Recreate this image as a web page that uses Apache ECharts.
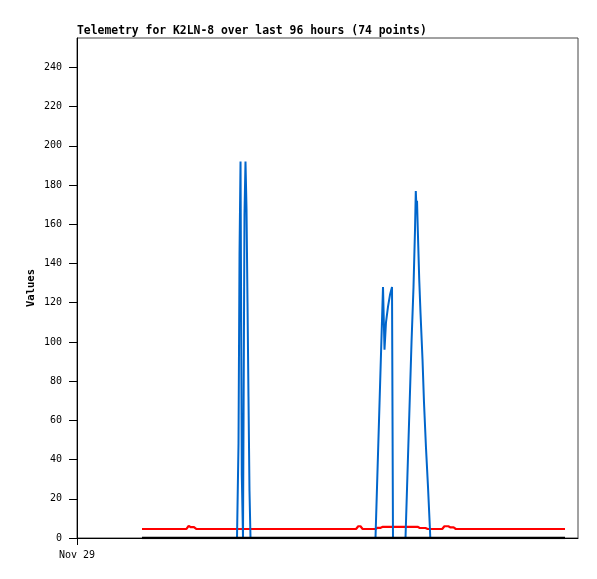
<!DOCTYPE html>
<html>
<head>
<meta charset="utf-8">
<script src="https://cdn.jsdelivr.net/npm/echarts@6/dist/echarts.min.js"></script>
<style>html,body{margin:0;padding:0;background:#fff}#c{width:597px;height:579px}</style>
</head>
<body>
<div id="c"></div>
<script>
// Hours since Nov 29 00:00
const titleText = 'Telemetry for K2LN-8 over last 96 hours (74 points)';
const xTickLabels = ['Nov 29'];
const yTicks = [0, 20, 40, 60, 80, 100, 120, 140, 160, 180, 200, 220, 240];

const blueTimes = [14.79, 36.41, 36.75, 36.98, 37.21, 37.50, 37.77, 38.11, 38.34, 38.57, 38.80, 39.02, 39.25, 39.48,
  67.92, 69.63, 69.97, 70.31, 70.77, 71.22, 71.68, 71.90,
  74.75, 76.12, 76.57, 76.91, 77.09, 77.25, 77.37, 77.55, 77.87, 78.16, 78.62, 78.96, 79.41, 79.87, 80.28, 80.39, 111.04];
const blueValues = [0, 0, 48, 145, 192, 32, 0, 165, 192, 168, 120, 72, 24, 0,
  0, 128, 96, 110, 118, 124, 128, 0,
  0, 100, 128, 157, 177, 168, 172, 157, 132, 115, 91, 69, 46, 26, 6, 0, 0];

const redTimes = [14.79, 24.91, 25.41, 25.91, 26.62, 27.12, 63.50, 64.00, 64.50, 65.00, 67.90, 68.40, 69.10, 69.60,
  77.50, 78.00, 79.30, 79.80, 83.10, 83.60, 84.50, 85.00, 85.70, 86.20, 111.04];
const redValues = [4.6, 4.6, 6.2, 5.5, 5.5, 4.6, 4.6, 6.0, 6.0, 4.6, 4.6, 5.2, 5.2, 5.7,
  5.7, 5.1, 5.1, 4.6, 4.6, 6.0, 6.0, 5.4, 5.4, 4.6, 4.6];

const blackTimes = [14.79, 111.04];
const blackValues = [0, 0];

const zip = (t, v) => t.map((x, i) => [x, v[i]]);
const mono = 'DejaVu Sans Mono';

const chart = echarts.init(document.getElementById('c'), null, {renderer: 'canvas'});
chart.setOption({
  animation: false,
  backgroundColor: '#fff',
  title: {
    text: titleText, left: 77, top: 26, padding: 0,
    textStyle: {fontFamily: mono, fontSize: 11.4, fontWeight: 'bold', color: '#000'}
  },
  grid: {left: 77, right: 19, top: 38, bottom: 41, show: true, borderColor: '#444', borderWidth: 1, backgroundColor: 'transparent'},
  xAxis: {
    type: 'value', min: 0, max: 114,
    splitLine: {show: false},
    axisLine: {show: true, onZero: false, lineStyle: {color: '#000', width: 1}},
    axisTick: {show: true, length: 7, customValues: [0], lineStyle: {color: '#000'}},
    axisLabel: {customValues: [0], formatter: v => (v === 0 ? xTickLabels[0] : ''), fontFamily: mono, fontSize: 10, color: '#000', margin: 12}
  },
  yAxis: {
    type: 'value', min: 0, max: 255,
    name: 'Values', nameLocation: 'middle', nameGap: 40, nameMoveOverlap: false,
    nameTextStyle: {fontFamily: mono, fontSize: 10.5, fontWeight: 'bold', color: '#000'},
    splitLine: {show: false},
    axisLine: {show: true, lineStyle: {color: '#000', width: 1}},
    axisTick: {show: true, length: 8, customValues: yTicks, lineStyle: {color: '#000'}},
    axisLabel: {customValues: yTicks, fontFamily: mono, fontSize: 10, color: '#000', margin: 15}
  },
  series: [
    {type: 'line', data: zip(redTimes, redValues), symbol: 'none', z: 2, lineStyle: {color: '#ff0000', width: 2.2}},
    {type: 'line', data: zip(blueTimes, blueValues), symbol: 'none', z: 3, lineStyle: {color: '#0066cc', width: 2}},
    {type: 'line', data: zip(blackTimes, blackValues), symbol: 'none', z: 4, lineStyle: {color: '#000', width: 2.5}}
  ]
});
</script>
</body>
</html>
